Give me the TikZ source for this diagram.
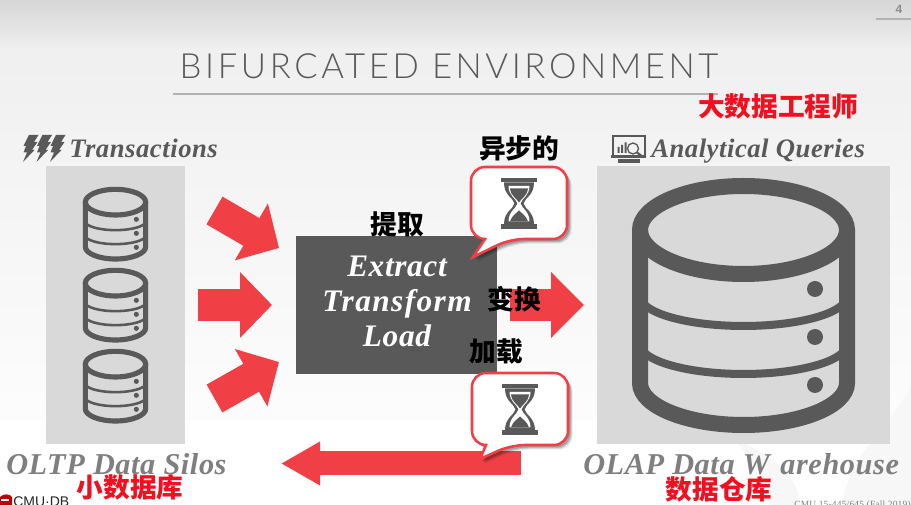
\documentclass[tikz,border=0pt]{standalone}
\usepackage{fontspec}
\usetikzlibrary{arrows.meta,calc}
\setmainfont{Liberation Serif}
\newfontfamily\cjk{Noto Sans CJK SC}
\newfontfamily\titlefont{Lato}[UprightFont=* Light,LetterSpace=10.4]
\newfontfamily\sansf{Liberation Sans}
\newfontfamily\serifl{Liberation Serif}[LetterSpace=2]
\newfontfamily\seriflw{Liberation Serif}[LetterSpace=4.5]
\definecolor{dk}{HTML}{595959}
\definecolor{panel}{HTML}{D9D9D9}
\definecolor{redA}{HTML}{F04045}
\definecolor{redT}{HTML}{F01020}
\definecolor{lbl}{HTML}{7F7F7F}
\tikzset{
  x=0.75pt,y=-0.75pt,
  panelbox/.style={fill=panel,draw=none,inner sep=0,minimum width=#1*0.75pt,minimum height=278*0.75pt},
  zhblack/.style={font=\cjk\fontsize{20}{20}\selectfont\bfseries,text=black,inner sep=0},
  zhred/.style={font=\cjk\fontsize{20}{20}\selectfont\bfseries,text=redT,inner sep=0},
  headlbl/.style={font=\serifl\fontsize{20}{20}\selectfont\bfseries\itshape,text=dk,inner sep=0,anchor=base west},
  footlbl/.style={font=\serifl\fontsize{22.7}{23}\selectfont\bfseries\itshape,text=lbl,inner sep=0,anchor=base west},
  etltxt/.style={font=\serifl\fontsize{23.5}{24}\selectfont\bfseries\itshape,text=white,inner sep=0,anchor=base},
  bigarrow/.style n args={3}{draw=redA,line width=#1*0.75pt,
    -{Triangle[length=#2*0.75pt,width=#3*0.75pt,fill=redA]}},
}
\newcommand{\hlf}[2]{(-103.5,#1) .. controls (-103.5,#1+0.55*#2) and (-57,#1+#2) .. (0,#1+#2) .. controls (57,#1+#2) and (103.5,#1+0.55*#2) .. (103.5,#1)}
\newcommand{\dbicon}[4]{%
  \begin{scope}[shift={(#1,#2)},x=#3*0.75pt,y=-#3*0.75pt,draw=dk,line cap=butt]
    \draw[line width=#3*#4*12pt] (-103.5,52) -- (-103.5,205) .. controls (-103.5,228) and (-57,247) .. (0,247) .. controls (57,247) and (103.5,228) .. (103.5,205) -- (103.5,52);
    \draw[line width=#3*#4*12pt] (-103.5,52) .. controls (-103.5,28) and (-57,8) .. (0,8) .. controls (57,8) and (103.5,28) .. (103.5,52) .. controls (103.5,76) and (57,96) .. (0,96) .. controls (-57,96) and (-103.5,76) .. (-103.5,52) -- cycle;
    \draw[line width=#3*#4*6pt] \hlf{118}{30};
    \draw[line width=#3*#4*6pt] \hlf{166}{30};
    \foreach \yy in {111,159,207}{\fill[dk] (71.5,\yy) circle[radius=8*#4];}
  \end{scope}}
\newcommand{\speech}[4]{%
  \begin{scope}[shift={(#1,#2)}]
    \foreach \dd/\op in {4.5/.10,3.5/.14,2.5/.18}{
      \fill[black,opacity=\op,shift={(\dd,\dd)},rounded corners=10.5pt] (14,72) -- (0,72) -- (0,0) -- (96,0) -- (96,72) -- (39,72) [sharp corners] -- (#3,#4) -- cycle;}
    \filldraw[fill=white,draw=redA,line width=1.9pt,line join=miter,rounded corners=10.5pt] (14,72) -- (0,72) -- (0,0) -- (96,0) -- (96,72) -- (39,72) [sharp corners] -- (#3,#4) -- cycle;
    \begin{scope}[shift={(48,36.5)}]
      \fill[dk] (-18,-25.5) rectangle (18,-21);
      \fill[dk] (-18,21) rectangle (18,25.5);
      \fill[dk] (-15,-21) .. controls (-15,-8) and (-6,-6) .. (-4.5,0) .. controls (-6,6) and (-15,8) .. (-15,21) -- (15,21) .. controls (15,8) and (6,6) .. (4.5,0) .. controls (6,-6) and (15,-8) .. (15,-21) -- cycle;
      \fill[white] (-10.5,-17.5) .. controls (-10.5,-8) and (-3,-5) .. (-1.5,0) .. controls (-3,5) and (-10.5,8) .. (-10.5,18) -- (10.5,18) .. controls (10.5,8) and (3,5) .. (1.5,0) .. controls (3,-5) and (10.5,-8) .. (10.5,-17.5) -- cycle;
      \fill[dk] (-9,-15) -- (9,-15) .. controls (8,-7) and (2,-5) .. (0,-1) .. controls (-2,-5) and (-8,-7) .. (-9,-15) -- cycle;
      \fill[dk] (-9,18) .. controls (-7,12) and (-3,10) .. (0,7) .. controls (3,10) and (7,12) .. (9,18) -- cycle;
    \end{scope}
  \end{scope}}
\begin{document}
\begin{tikzpicture}
\useasboundingbox (0,0) rectangle (911,505);
% background
\fill[white] (0,0) rectangle (911,505);
\shade[top color=black!16,bottom color=black!6,draw=none] (0,0) rectangle (911,50);
\shade[top color=black!6,bottom color=black!1,draw=none] (0,50) rectangle (911,420);
\fill[black!3] (911,385) .. controls (890,430) and (850,450) .. (842,505) -- (911,505) -- cycle;
\fill[black!3] (735,440) .. controls (775,455) and (800,480) .. (800,505) -- (770,505) .. controls (770,480) and (750,460) .. (735,440) -- cycle;
% header
\node[font=\titlefont\fontsize{26}{26}\selectfont,text=dk,inner sep=0] (title) at (449,66) {BIFURCATED ENVIRONMENT};
\coordinate (ruleL) at (173,94); \coordinate (ruleR) at (718,94);
\draw[black!30,line width=1.1pt] (ruleL) -- (ruleR);
\node[font=\sansf\fontsize{9}{9}\selectfont\bfseries,text=black!45,inner sep=0] (pageno) at (899,9) {4};
\coordinate (pgL) at (876,19); \coordinate (pgR) at (911,19);
\draw[black!30,line width=1.5pt] (pgL) -- (pgR);
% panels
\node[panelbox=139,anchor=north west] (left) at (46,166) {};
\node[panelbox=293,anchor=north west] (right) at (597,166) {};
\dbicon{115.5}{187}{0.2915}{1.1}
\dbicon{115.5}{268}{0.2915}{1.1}
\dbicon{115.5}{349}{0.2915}{1.1}
\dbicon{743.5}{178}{1}{1}
% bolts
\foreach \sx in {0,13.5,27}{
  \fill[dk,shift={(\sx,0)}] (29,135) -- (38.5,135) -- (34,142) -- (37.5,142) -- (32,150) -- (34.5,150) -- (23,162) -- (27,152.5) -- (23.5,152.5) -- (26,146) -- (23.5,146) -- cycle;}
% monitor
\draw[dk,line width=1.5pt] (612.5,157) -- (612.5,136.5) -- (645,136.5) -- (645,157);
\fill[dk] (611,155) rectangle (646,158.5);
\fill[dk] (617.5,159.5) rectangle (640,163);
\fill[dk] (617.5,147) rectangle (619.5,153) (621,145) rectangle (623,153) (624.5,142.5) rectangle (626.5,153);
\draw[dk,line width=1pt] (633,148.5) circle[radius=5.5];
\draw[dk,line width=1.6pt] (637,152.5) -- (643,157);
% labels
\node[headlbl] (trans) at (69,158) {Transactions};
\node[headlbl] (anal) at (651,158) {Analytical Queries};
\node[footlbl] (oltp) at (6,475) {OLTP Data Silos};
\node[footlbl] (olap) at (583,475) {OLAP Data W\kern8pt arehouse};
% arrows
\coordinate (a1s) at (214.5,210.5); \coordinate (a1e) at (279,248);
\coordinate (a2s) at (198,305); \coordinate (a2e) at (272,305);
\coordinate (a3s) at (214.5,398.5); \coordinate (a3e) at (279,362);
\coordinate (a4s) at (510,305); \coordinate (a4e) at (584,305);
\coordinate (a5s) at (521,463.5); \coordinate (a5e) at (281,463.5);
\draw[bigarrow={32}{32}{64}] (a1s) -- (a1e);
\draw[bigarrow={32}{32}{64}] (a2s) -- (a2e);
\draw[bigarrow={32}{32}{64}] (a3s) -- (a3e);
\draw[bigarrow={32}{33}{64}] (a4s) -- (a4e);
\draw[bigarrow={24}{39}{41}] (a5s) -- (a5e);
% ETL box
\node[fill=dk,inner sep=0,anchor=north west,minimum width=201*0.75pt,minimum height=138*0.75pt] (etl) at (296,236) {};
\node[etltxt] (extract) at (397,277) {Extract};
\node[etltxt,font=\seriflw\fontsize{23.5}{24}\selectfont\bfseries\itshape] (transform) at (397,312) {Transform};
\node[etltxt] (load) at (397,347) {Load};
% callouts
\speech{471}{167}{2}{90}
\speech{472}{373}{8}{86}
% chinese
\node[zhblack] (z1) at (397,224) {提取};
\node[zhblack] (z2) at (519,148) {异步的};
\node[zhblack] (z3) at (514,299) {变换};
\node[zhblack] (z4) at (496,352) {加载};
\node[zhred] (z5) at (778,106) {大数据工程师};
\node[zhred] (z6) at (130,487) {小数据库};
\node[zhred] (z7) at (719,489) {数据仓库};
% footer
\fill[red!75!black] (0,497) .. controls (4,493) and (10,494) .. (12,497) -- (12,505) -- (0,505) -- cycle;
\fill[white] (1,499.5) rectangle (9,501.5);
\node[font=\sansf\fontsize{10.5}{11}\selectfont,text=black!85,inner sep=0,anchor=north west] (cmu) at (13,496.5) {CMU·DB};
\node[font=\serifl\fontsize{7.1}{8}\selectfont,text=black!50,inner sep=0,anchor=north east] (course) at (911,501) {CMU 15-445/645 (Fall 2019)};
\end{tikzpicture}
\end{document}
